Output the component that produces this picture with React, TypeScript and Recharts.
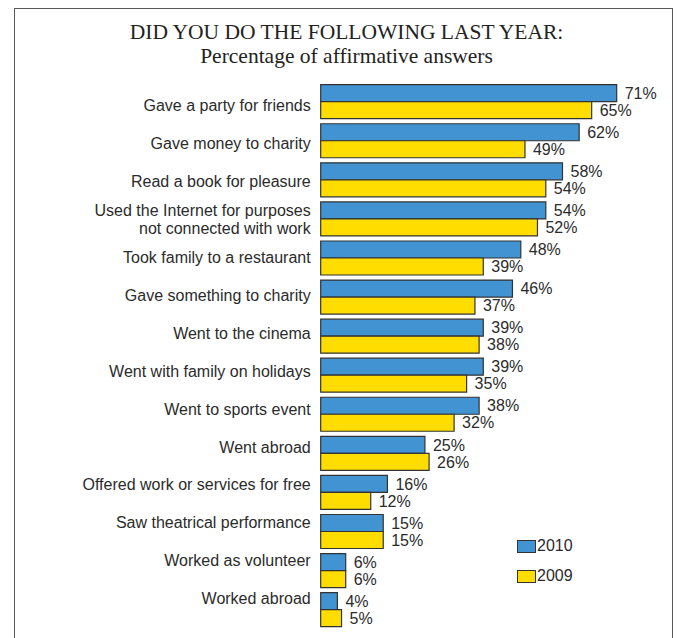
import React from 'react'
import { BarChart, Bar, XAxis, YAxis, Legend, LabelList } from 'recharts'

const categories = [
  'Gave a party for friends',
  'Gave money to charity',
  'Read a book for pleasure',
  'Used the Internet for purposes\nnot connected with work',
  'Took family to a restaurant',
  'Gave something to charity',
  'Went to the cinema',
  'Went with family on holidays',
  'Went to sports event',
  'Went abroad',
  'Offered work or services for free',
  'Saw theatrical performance',
  'Worked as volunteer',
  'Worked abroad',
]
const values2010 = [71, 62, 58, 54, 48, 46, 39, 39, 38, 25, 16, 15, 6, 4]
const values2009 = [65, 49, 54, 52, 39, 37, 38, 35, 32, 26, 12, 15, 6, 5]
const seriesNames = ['2010', '2009']

const data = categories.map((name, i) => ({ name, y2010: values2010[i], y2009: values2009[i] }))

const BLUE = '#4193D2'
const YELLOW = '#FFDD00'
const EDGE = '#333333'
const TEXT = '#2b2b2b'
const SANS = '"Liberation Sans", Arial, sans-serif'

const CategoryTick = (props: any) => {
  const { x, y, payload } = props
  const lines = String(payload.value).split('\n')
  const start = -((lines.length - 1) * 18) / 2
  return (
    <text x={x} y={y} textAnchor="end" fill={TEXT} fontSize={16} fontFamily={SANS}>
      {lines.map((l, i) => (
        <tspan key={i} x={x} dy={i === 0 ? start + 5.5 : 18}>{l}</tspan>
      ))}
    </text>
  )
}

const LegendBox = (props: any) => {
  const items = [...(props.payload || [])].sort(
    (a: any, b: any) => seriesNames.indexOf(a.value) - seriesNames.indexOf(b.value)
  )
  return (
    <div style={{ fontFamily: SANS, fontSize: 16, color: TEXT }}>
      {items.map((it: any, i: number) => (
        <div key={i} style={{ display: 'flex', alignItems: 'center', height: 16, marginBottom: 14 }}>
          <span style={{ width: 17, height: 11, background: it.color, border: `1px solid ${EDGE}`, display: 'inline-block' }} />
          <span style={{ marginLeft: 1 }}>{it.value}</span>
        </div>
      ))}
    </div>
  )
}

export default function App() {
  return (
    <div style={{ position: 'absolute', left: 0, top: 0, width: 677, height: 638, background: '#fff', overflow: 'hidden' }}>
      <div style={{ position: 'absolute', left: 14, top: 8, width: 657, height: 660, border: '1.5px solid #5a5a5a' }} />
      <div style={{ position: 'absolute', left: 0, top: 20, width: 693, textAlign: 'center', fontFamily: '"Liberation Serif", "Times New Roman", serif', fontSize: 21.5, lineHeight: '24px', color: '#222' }}>
        <div>DID YOU DO THE FOLLOWING LAST YEAR:</div>
        <div>Percentage of affirmative answers</div>
      </div>
      <div style={{ position: 'absolute', left: 0, top: 0 }}>
        <BarChart
          width={677}
          height={638}
          data={data}
          layout="vertical"
          margin={{ top: 81.7, right: 22.8, bottom: 9.3, left: 10 }}
          barCategoryGap={3}
          barGap={0}
        >
          <XAxis type="number" domain={[0, 80]} hide />
          <YAxis yAxisId="bars" type="category" dataKey="name" width={0} hide />
          <YAxis
            yAxisId="labels"
            type="category"
            dataKey="name"
            width={310.7}
            padding={{ top: 5, bottom: 11 }}
            axisLine={false}
            tickLine={false}
            tickSize={0}
            tickMargin={10}
            interval={0}
            tick={<CategoryTick />}
          />
          <Legend
            layout="vertical"
            align="center"
            verticalAlign="middle"
            wrapperStyle={{ left: 517, top: 538, width: 80 }}
            content={<LegendBox />}
          />
          <Bar yAxisId="bars" dataKey="y2010" name="2010" fill={BLUE} stroke={EDGE} strokeWidth={1.2} isAnimationActive={false}>
            <LabelList dataKey="y2010" position="right" offset={8} formatter={(v: any) => `${v}%`} fill={TEXT} fontSize={16} fontFamily={SANS} />
          </Bar>
          <Bar yAxisId="bars" dataKey="y2009" name="2009" fill={YELLOW} stroke={EDGE} strokeWidth={1.2} isAnimationActive={false}>
            <LabelList dataKey="y2009" position="right" offset={8} formatter={(v: any) => `${v}%`} fill={TEXT} fontSize={16} fontFamily={SANS} />
          </Bar>
        </BarChart>
      </div>
    </div>
  )
}
